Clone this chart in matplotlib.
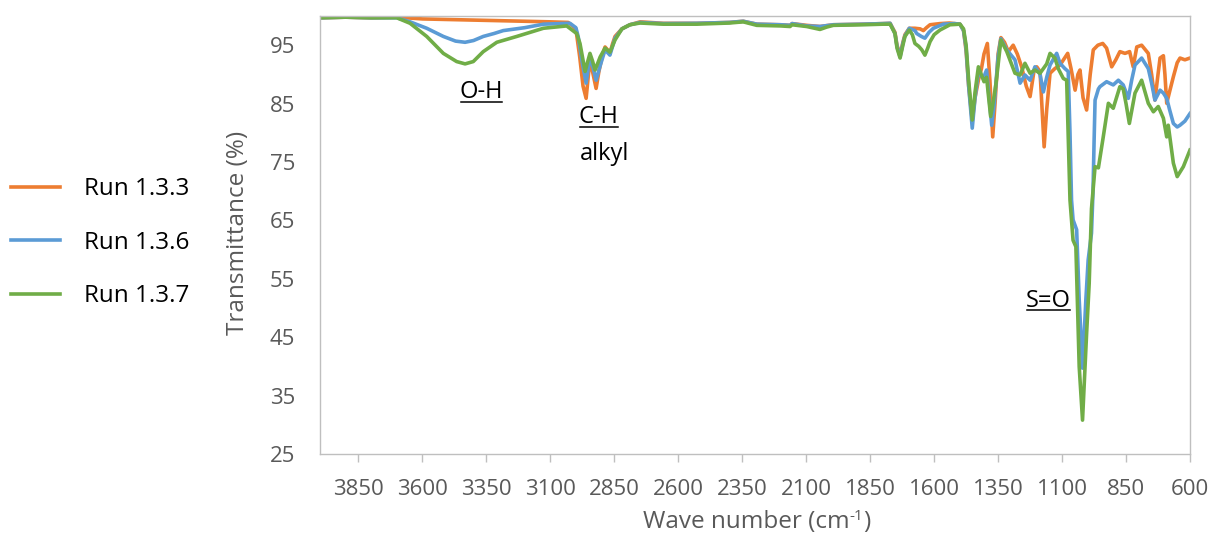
import matplotlib
matplotlib.use("Agg")
import matplotlib.pyplot as plt
from matplotlib.lines import Line2D
import numpy as np

plt.rcParams['font.family'] = ['Open Sans', 'DejaVu Sans']

# ---------------- data ----------------
series_labels = ["Run 1.3.3", "Run 1.3.6", "Run 1.3.7"]
series_colors = ["#ED7D31", "#5B9BD5", "#70AD47"]

wn_133 = [4000, 3900, 3800, 3700, 3600, 3500, 3400, 3300, 3200, 3100, 3030, 3000, 2985, 2972,
          2960, 2952, 2945, 2935, 2921, 2910, 2895, 2886, 2876, 2867, 2857, 2847, 2820, 2789,
          2749, 2658, 2528, 2400, 2346, 2293, 2200, 2163, 2155, 2098, 2046, 1994, 1877, 1800,
          1772, 1753, 1745, 1733, 1722, 1714, 1697, 1675, 1655, 1642, 1630, 1616, 1577, 1540,
          1520, 1499, 1485, 1475, 1465, 1451, 1440, 1427, 1415, 1405, 1392, 1382, 1371, 1362,
          1350, 1339, 1325, 1310, 1291, 1275, 1258, 1240, 1225, 1210, 1199, 1186, 1178, 1170,
          1160, 1147, 1128, 1108, 1090, 1078, 1065, 1049, 1038, 1030, 1018, 1004, 990, 978,
          960, 941, 926, 906, 890, 874, 854, 836, 822, 808, 789, 763, 750, 737, 725, 717, 704,
          698, 691, 680, 665, 650, 639, 620, 600]
t_133 = [99.7, 99.8, 99.7, 99.8, 99.5, 99.4, 99.3, 99.2, 99.1, 99.0, 98.9, 97.8, 93.0, 88.0,
         85.9, 89.5, 92.5, 90.5, 87.6, 90.5, 93.5, 94.7, 94.2, 93.6, 95.2, 96.5, 97.8, 98.5,
         99.0, 98.75, 98.75, 98.9, 99.1, 98.6, 98.5, 98.4, 98.7, 98.4, 98.2, 98.5, 98.6, 98.7,
         98.75, 97.2, 95.0, 93.3, 95.5, 96.8, 97.9, 97.9, 97.8, 97.5, 98.0, 98.5, 98.7, 98.8,
         98.7, 98.6, 97.5, 94.0, 88.0, 82.0, 86.0, 89.0, 91.0, 93.5, 95.3, 89.0, 79.3, 85.0,
         93.5, 96.3, 95.5, 93.9, 95.0, 93.5, 91.3, 88.0, 86.2, 90.5, 91.3, 90.5, 84.0, 77.6,
         84.0, 90.2, 91.0, 91.6, 92.8, 93.6, 91.0, 87.3, 90.0, 90.75, 86.0, 83.9, 90.0, 94.2,
         95.0, 95.3, 94.5, 91.3, 92.5, 93.9, 93.6, 93.9, 91.3, 94.7, 95.0, 93.6, 90.0, 85.6, 90.0, 92.8, 93.2,
         90.0, 85.05, 87.0, 89.6, 92.0, 92.8, 92.5, 92.8]

wn_136 = [4000, 3900, 3800, 3700, 3648, 3583, 3518, 3470, 3433, 3400, 3362, 3320, 3284, 3200,
          3127, 3060, 3023, 3000, 2991, 2975, 2960, 2952, 2945, 2935, 2921, 2905, 2886, 2867,
          2847, 2820, 2789, 2749, 2658, 2528, 2400, 2346, 2293, 2200, 2163, 2155, 2098, 2046,
          1994, 1877, 1800, 1772, 1753, 1745, 1733, 1722, 1714, 1697, 1675, 1668, 1650, 1636,
          1620, 1603, 1564, 1520, 1499, 1485, 1475, 1465, 1451, 1440, 1427, 1408, 1395, 1385,
          1375, 1365, 1350, 1339, 1316, 1284, 1264, 1245, 1225, 1206, 1186, 1173, 1160, 1147,
          1121, 1108, 1089, 1076, 1069, 1063, 1057, 1043, 1033, 1020, 1007, 998, 985, 979, 975,
          971, 958, 952, 926, 900, 880, 861, 841, 828, 815, 789, 763, 750, 737, 717, 704, 691,
          680, 665, 650, 639, 620, 600]
t_136 = [99.7, 99.8, 99.7, 99.7, 99.0, 97.9, 96.5, 95.7, 95.5, 95.8, 96.5, 97.0, 97.5, 98.0,
         98.6, 98.7, 98.75, 98.0, 96.5, 92.0, 88.5, 91.0, 93.0, 91.5, 89.0, 91.5, 94.2, 93.3,
         96.2, 97.8, 98.5, 98.9, 98.7, 98.75, 98.9, 99.1, 98.6, 98.5, 98.4, 98.7, 98.3, 98.2,
         98.5, 98.6, 98.7, 98.75, 97.0, 94.8, 93.0, 95.3, 96.6, 97.9, 97.5, 97.0, 96.5, 96.2,
         97.2, 97.9, 98.6, 98.7, 98.6, 97.5, 94.5, 88.0, 80.8, 86.0, 90.5, 89.3, 90.75, 86.0,
         81.3, 85.0, 93.0, 96.1, 94.2, 92.5, 88.5, 89.9, 89.0, 91.3, 90.0, 87.0, 89.5, 91.6,
         93.6, 91.9, 91.0, 90.5, 80.0, 68.5, 65.1, 63.4, 51.4, 39.7, 51.4, 58.2, 62.8, 70.0, 78.2,
         85.6, 87.5, 87.9, 88.75, 88.2, 89.0, 88.2, 85.9, 89.0, 91.6, 92.8, 91.0, 88.5, 85.6, 87.3, 86.8, 85.9,
         84.0, 81.6, 81.0, 81.3, 82.0, 83.3]

wn_137 = [4000, 3900, 3800, 3700, 3648, 3583, 3518, 3466, 3433, 3401, 3362, 3309, 3231, 3127,
          3036, 2997, 2984, 2964, 2955, 2945, 2935, 2925, 2905, 2886, 2867, 2847, 2820, 2789,
          2749, 2658, 2528, 2400, 2346, 2293, 2200, 2163, 2155, 2098, 2046, 2020, 1994, 1877,
          1800, 1772, 1753, 1745, 1733, 1722, 1714, 1697, 1685, 1675, 1660, 1648, 1636, 1625,
          1616, 1600, 1577, 1538, 1499, 1485, 1475, 1465, 1451, 1440, 1427, 1405, 1395, 1388,
          1379, 1370, 1358, 1339, 1316, 1284, 1264, 1245, 1225, 1206, 1186, 1160, 1147, 1128,
          1115, 1095, 1082, 1069, 1057, 1046, 1033, 1020, 1004, 994, 985, 971, 958, 939, 919,
          900, 874, 861, 850, 837, 815, 789, 763, 743, 724, 704, 691, 685, 665, 650, 626, 600]
t_137 = [99.7, 99.8, 99.7, 99.7, 98.75, 96.5, 93.6, 92.2, 91.8, 92.2, 93.9, 95.5, 96.5, 97.9,
         98.3, 97.0, 95.3, 90.5, 92.0, 93.6, 92.3, 90.75, 93.0, 94.5, 93.8, 95.9, 97.8, 98.5,
         98.8, 98.6, 98.6, 98.8, 99.0, 98.4, 98.3, 98.2, 98.5, 98.2, 97.7, 98.1, 98.4, 98.5,
         98.6, 98.6, 97.0, 94.5, 92.8, 95.0, 96.5, 97.6, 96.8, 95.3, 94.8, 94.2, 93.3, 94.5,
         95.6, 96.8, 97.6, 98.5, 98.6, 97.8, 95.0, 89.0, 82.2, 87.0, 91.3, 88.75, 89.5, 86.5,
         82.8, 85.0, 88.5, 95.9, 93.9, 90.2, 89.9, 91.9, 90.2, 90.75, 90.2, 91.8, 93.6, 92.8,
         91.0, 89.3, 89.0, 68.5, 61.6, 60.5, 39.95, 30.8, 45.7, 54.2, 67.0, 74.2, 74.0, 79.3, 85.05,
         84.2, 87.9, 87.5, 85.0, 81.6, 86.8, 89.0, 85.05, 83.6, 84.5, 82.5, 79.3, 81.3, 74.8, 72.5, 74.2, 77.05]

x_ticks = [600, 850, 1100, 1350, 1600, 1850, 2100, 2350, 2600, 2850, 3100, 3350, 3600, 3850]
y_ticks = [25, 35, 45, 55, 65, 75, 85, 95]
x_label_parts = ("Wave number (cm", "-1", ")")
y_label = "Transmittance (%)"
annotations = [("O-H", 3453, 85.9), ("C-H", 2988, 81.6), ("S=O", 1241, 50.2)]
plain_notes = [("alkyl", 2986, 75.3)]

# ---------------- figure ----------------
W, H = 1213, 538
fig = plt.figure(figsize=(W / 100, H / 100), dpi=100)
ax = fig.add_axes([320 / W, 1 - 454 / H, 870 / W, 438 / H])

lines = []
for wn, t, lab, col in zip([wn_133, wn_136, wn_137], [t_133, t_136, t_137],
                           series_labels, series_colors):
    ln, = ax.plot(wn, t, color=col, lw=2.6, label=lab, solid_joinstyle='round')
    lines.append(ln)

ax.set_xlim(4000, 600)
ax.set_ylim(25, 100)
ax.set_xticks(x_ticks)
ax.set_yticks(y_ticks)
ax.tick_params(axis='x', direction='out', length=6, width=1, color='#BFBFBF',
               labelsize=16, labelcolor='#595959', pad=12)
ax.tick_params(axis='y', length=0, labelsize=16, labelcolor='#595959', pad=18)
for s in ax.spines.values():
    s.set_color('#BFBFBF')
    s.set_linewidth(1)

fig.text(238 / W, 1 - 233 / H, y_label, rotation=90, ha='center', va='center',
         fontsize=17.5, color='#595959')

# x-axis title with a small raised "-1"
t_main = fig.text(0, 0, x_label_parts[0], fontsize=17.5, color='#595959', va='baseline')
t_sup = fig.text(0, 0, x_label_parts[1], fontsize=11, color='#595959', va='baseline')
t_end = fig.text(0, 0, x_label_parts[2], fontsize=17.5, color='#595959', va='baseline')

leg = fig.legend(handles=lines, labels=series_labels, loc='center left',
                 bbox_to_anchor=(11 / W, 1 - 242.7 / H), frameon=False,
                 fontsize=17.5, handlelength=2.0, handletextpad=1.0,
                 labelspacing=1.22, borderaxespad=0, borderpad=0)

texts = []
for s, xw, yt in annotations:
    t = ax.text(xw, yt, s, fontsize=17, color='black', ha='left', va='baseline')
    texts.append(t)
for s, xw, yt in plain_notes:
    ax.text(xw, yt, s, fontsize=17, color='black', ha='left', va='baseline')

fig.canvas.draw()
r = fig.canvas.get_renderer()
inv = fig.transFigure.inverted()

w_main = t_main.get_window_extent(r).width
w_sup = t_sup.get_window_extent(r).width
w_end = t_end.get_window_extent(r).width
total = w_main + w_sup + w_end
x0 = 757 - total / 2
base = H - 528
t_main.set_position(inv.transform((x0, base)))
t_sup.set_position(inv.transform((x0 + w_main, base + 8)))
t_end.set_position(inv.transform((x0 + w_main + w_sup, base)))

for t in texts:
    bb = t.get_window_extent(r)
    bx, by = ax.transData.transform(t.get_position())
    y_ul = by - 3.5
    p0 = inv.transform((bb.x0 + 1, y_ul))
    p1 = inv.transform((bb.x1 - 1, y_ul))
    fig.add_artist(Line2D([p0[0], p1[0]], [p0[1], p1[1]], color='black', lw=1.1,
                          transform=fig.transFigure))

fig.savefig("out.png", dpi=100)
